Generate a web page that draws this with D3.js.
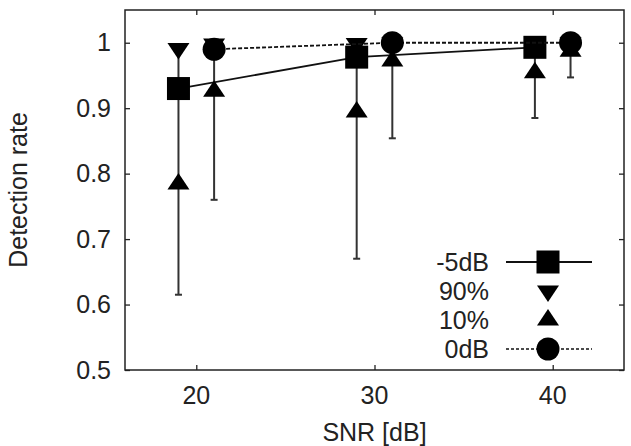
<!DOCTYPE html>
<html>
<head>
<meta charset="utf-8">
<title>Detection rate vs SNR</title>
<script src="https://d3js.org/d3.v7.min.js"></script>
<style>
  body { margin: 0; background: #fff; }
  text { font-family: "Liberation Sans", Arial, sans-serif; fill: #222; }
</style>
</head>
<body>
<div id="chart"></div>
<script>

// データ（-5dB は SNR-1、0dB は SNR+1 にずらして描画されている）
var xTicks = [20, 30, 40];
var yTicks = [0.5, 0.6, 0.7, 0.8, 0.9, 1];

var xM5 = [19, 29, 39];
var meanM5 = [0.930, 0.978, 0.993];
var p90M5 = [0.991, 0.999, 1.0];
var p10M5 = [0.784, 0.894, 0.954];
var lowM5 = [0.615, 0.670, 0.885];
var highM5 = [0.991, 0.999, 1.0];

var x0 = [21, 31, 41];
var mean0 = [0.990, 1.0, 1.0];
var p90_0 = [0.998, 1.0, 1.0];
var p10_0 = [0.926, 0.972, 0.987];
var low0 = [0.760, 0.854, 0.947];
var high0 = [0.998, 1.0, 1.0];

var legendLabels = ["-5dB", "90%", "10%", "0dB"];

// サイズ
var width = 631;
var height = 446;
var margin = { top: 10, right: 7, bottom: 76, left: 125 };
var plotW = width - margin.left - margin.right;
var plotH = height - margin.top - margin.bottom;

var x = d3.scaleLinear().domain([16, 44]).range([0, plotW]);
var y = d3.scaleLinear().domain([0.5, 1.05]).range([plotH, 0]);

var svg = d3.select("#chart").append("svg")
  .attr("width", width)
  .attr("height", height);

var g = svg.append("g")
  .attr("transform", `translate(${margin.left},${margin.top})`);

// 軸（内向きの目盛り、上下左右）
var tickLen = 5;
g.append("g").attr("class", "axis")
  .attr("transform", `translate(0,${plotH})`)
  .call(d3.axisBottom(x).tickValues(xTicks).tickSizeInner(-tickLen).tickSizeOuter(0).tickFormat(""));
g.append("g").attr("class", "axis")
  .call(d3.axisTop(x).tickValues(xTicks).tickSizeInner(-tickLen).tickSizeOuter(0).tickFormat(""));
g.append("g").attr("class", "axis")
  .call(d3.axisLeft(y).tickValues(yTicks).tickSizeInner(-tickLen).tickSizeOuter(0).tickFormat(""));
g.append("g").attr("class", "axis")
  .attr("transform", `translate(${plotW},0)`)
  .call(d3.axisRight(y).tickValues(yTicks).tickSizeInner(-tickLen).tickSizeOuter(0).tickFormat(""));
g.selectAll(".axis path").remove();
g.selectAll(".axis line").attr("stroke", "#222").attr("stroke-width", 1.3);

// 目盛りラベル
g.selectAll(".xlab").data(xTicks).enter().append("text")
  .attr("x", d => x(d))
  .attr("y", plotH + 34)
  .attr("text-anchor", "middle")
  .style("font-size", "25px")
  .text(d => d);
g.selectAll(".ylab").data(yTicks).enter().append("text")
  .attr("x", -14)
  .attr("y", d => y(d))
  .attr("dy", "0.35em")
  .attr("text-anchor", "end")
  .style("font-size", "25px")
  .text(d => d);

// 軸タイトル
svg.append("text")
  .attr("x", margin.left + plotW / 2)
  .attr("y", 441)
  .attr("text-anchor", "middle")
  .style("font-size", "25px")
  .text("SNR [dB]");
svg.append("text")
  .attr("transform", `translate(26.5,${margin.top + plotH / 2}) rotate(-90)`)
  .attr("text-anchor", "middle")
  .style("font-size", "25px")
  .text("Detection rate");

// マーカー形状
var triSize = 11;
function triUp(cx, cy) {
  return `M${cx},${cy - triSize}L${cx - triSize},${cy + triSize / 2}L${cx + triSize},${cy + triSize / 2}Z`;
}
function triDown(cx, cy) {
  return `M${cx},${cy + triSize}L${cx - triSize},${cy - triSize / 2}L${cx + triSize},${cy - triSize / 2}Z`;
}

function drawSeries(xs, mean, p90, p10, low, high, marker, dash) {
  var rows = xs.map((d, i) => ({ x: d, mean: mean[i], p90: p90[i], p10: p10[i], low: low[i], high: high[i] }));

  // エラーバー
  var eb = g.append("g").attr("stroke", "#333").attr("stroke-width", 2);
  eb.selectAll("line.v").data(rows).enter().append("line")
    .attr("x1", d => x(d.x)).attr("x2", d => x(d.x))
    .attr("y1", d => y(d.low)).attr("y2", d => y(d.high));
  eb.selectAll("line.lo").data(rows).enter().append("line")
    .attr("x1", d => x(d.x) - 3.5).attr("x2", d => x(d.x) + 3.5)
    .attr("y1", d => y(d.low)).attr("y2", d => y(d.low));
  eb.selectAll("line.hi").data(rows).enter().append("line")
    .attr("x1", d => x(d.x) - 3.5).attr("x2", d => x(d.x) + 3.5)
    .attr("y1", d => y(d.high)).attr("y2", d => y(d.high));

  // 平均の折れ線
  var line = d3.line().x(d => x(d.x)).y(d => y(d.mean));
  g.append("path").datum(rows)
    .attr("d", line)
    .attr("fill", "none")
    .attr("stroke", "#111")
    .attr("stroke-width", 1.8)
    .attr("stroke-dasharray", dash);

  // 90% / 10%
  g.selectAll(null).data(rows).enter().append("path")
    .attr("d", d => triDown(x(d.x), y(d.p90))).attr("fill", "#000");
  g.selectAll(null).data(rows).enter().append("path")
    .attr("d", d => triUp(x(d.x), y(d.p10))).attr("fill", "#000");

  // 平均マーカー
  if (marker === "square") {
    g.selectAll(null).data(rows).enter().append("rect")
      .attr("x", d => x(d.x) - 11.5).attr("y", d => y(d.mean) - 11.5)
      .attr("width", 23).attr("height", 23).attr("fill", "#000");
  } else {
    g.selectAll(null).data(rows).enter().append("circle")
      .attr("cx", d => x(d.x)).attr("cy", d => y(d.mean))
      .attr("r", 11.5).attr("fill", "#000");
  }
}

drawSeries(xM5, meanM5, p90M5, p10M5, lowM5, highM5, "square", null);
drawSeries(x0, mean0, p90_0, p10_0, low0, high0, "circle", "4,2");

// 凡例
var legend = svg.append("g");
var legTextX = 489, legMarkX = 548, legY0 = 262, legStep = 29;
legendLabels.forEach(function(lab, i) {
  var ly = legY0 + legStep * i;
  legend.append("text")
    .attr("x", legTextX).attr("y", ly).attr("dy", "0.35em")
    .attr("text-anchor", "end")
    .style("font-size", "25px")
    .text(lab);
  if (i === 0 || i === 3) {
    legend.append("line")
      .attr("x1", 506).attr("x2", 592).attr("y1", ly).attr("y2", ly)
      .attr("stroke", "#111").attr("stroke-width", i === 0 ? 1.8 : 1.4)
      .attr("stroke-dasharray", i === 3 ? "3,2" : null);
  }
  if (i === 0) {
    legend.append("rect").attr("x", legMarkX - 11.5).attr("y", ly - 11.5)
      .attr("width", 23).attr("height", 23).attr("fill", "#000");
  } else if (i === 1) {
    legend.append("path").attr("d", triDown(legMarkX, ly)).attr("fill", "#000");
  } else if (i === 2) {
    legend.append("path").attr("d", triUp(legMarkX, ly)).attr("fill", "#000");
  } else {
    legend.append("circle").attr("cx", legMarkX).attr("cy", ly).attr("r", 11.5).attr("fill", "#000");
  }
});

// 枠
g.append("rect")
  .attr("width", plotW).attr("height", plotH)
  .attr("fill", "none").attr("stroke", "#222").attr("stroke-width", 1.5);

</script>
</body>
</html>
